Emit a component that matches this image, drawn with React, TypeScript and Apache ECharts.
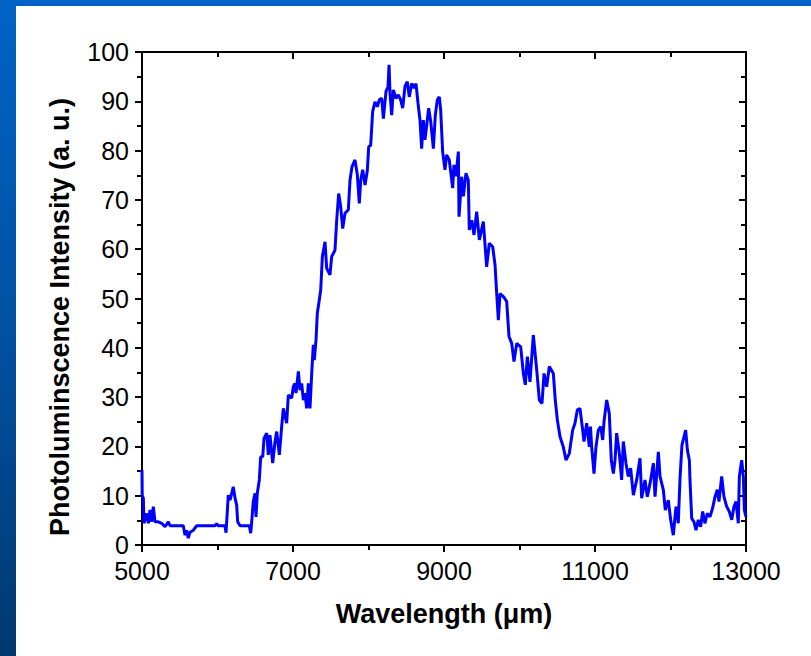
import React, { useEffect, useRef } from "react";
import * as echarts from "echarts";

// Wavelength (µm) and photoluminescence intensity (a.u.)
const wavelengths = [
  5000, 5003, 5018, 5026, 5062, 5084, 5106, 5128, 5150, 5172, 5216, 5261, 5305, 5349, 5371,
  5547, 5570, 5592, 5613, 5636, 5680, 5724, 5967, 5989, 6011, 6099, 6113, 6143, 6166, 6209,
  6232, 6254, 6267, 6298, 6421, 6440, 6453, 6474, 6497, 6510, 6527, 6554, 6572, 6599, 6616,
  6652, 6673, 6695, 6731, 6762, 6784, 6819, 6850, 6872, 6916, 6938, 6960, 6983, 7004, 7026,
  7040, 7071, 7093, 7115, 7137, 7159, 7181, 7203, 7225, 7248, 7269, 7282, 7305, 7322, 7348,
  7367, 7389, 7424, 7446, 7490, 7512, 7556, 7579, 7605, 7632, 7658, 7689, 7733, 7755, 7781,
  7821, 7852, 7878, 7897, 7923, 7954, 7984, 8003, 8029, 8055, 8086, 8117, 8143, 8175, 8197,
  8232, 8258, 8272, 8285, 8307, 8329, 8364, 8395, 8426, 8453, 8483, 8514, 8540, 8572, 8603,
  8629, 8656, 8682, 8704, 8726, 8748, 8771, 8797, 8824, 8859, 8885, 8912, 8938, 8956, 8982,
  9013, 9035, 9070, 9115, 9132, 9159, 9190, 9199, 9234, 9256, 9291, 9322, 9335, 9367, 9397,
  9433, 9468, 9521, 9565, 9600, 9645, 9676, 9698, 9720, 9742, 9786, 9830, 9861, 9897, 9927,
  9963, 10016, 10051, 10077, 10104, 10139, 10183, 10228, 10263, 10298, 10325, 10360, 10395, 10448, 10474,
  10501, 10536, 10580, 10616, 10660, 10704, 10735, 10766, 10801, 10837, 10854, 10890, 10925, 10940, 10956,
  10987, 11013, 11044, 11076, 11102, 11119, 11155, 11189, 11216, 11243, 11265, 11287, 11322, 11353, 11375,
  11410, 11441, 11472, 11508, 11552, 11596, 11618, 11662, 11693, 11729, 11773, 11795, 11839, 11861, 11905,
  11931, 11971, 12002, 12037, 12073, 12103, 12126, 12152, 12201, 12223, 12250, 12258, 12281, 12311, 12338,
  12368, 12399, 12426, 12456, 12487, 12523, 12558, 12590, 12620, 12642, 12678, 12708, 12744, 12779, 12811,
  12841, 12868, 12898, 12912, 12943, 12965, 12978, 13000,
];

const intensities = [
  15.2, 10.1, 9.5, 4.4, 6.4, 4.4, 7.1, 4.7, 7.8, 4.7, 4.7, 4.4, 3.7, 4.7, 3.9,
  3.9, 2.0, 3.0, 1.4, 2.6, 3.0, 3.9, 3.9, 4.3, 3.9, 3.9, 2.5, 10.1, 9.1, 11.8,
  9.5, 8.1, 4.7, 3.9, 3.9, 2.4, 4.7, 8.8, 10.5, 5.7, 10.5, 13.2, 17.9, 17.9, 21.6,
  22.7, 18.3, 22.3, 16.6, 21.0, 23.0, 18.3, 24.0, 27.7, 24.7, 30.4, 30.1, 29.8, 32.1, 32.8,
  30.8, 35.2, 31.4, 32.8, 29.4, 30.8, 27.7, 32.8, 27.7, 34.8, 40.6, 37.5, 41.6, 47.0, 49.7,
  51.7, 58.5, 61.5, 56.1, 54.8, 58.5, 59.8, 65.9, 71.3, 68.6, 64.2, 67.3, 68.0, 74.0, 76.7,
  78.1, 75.1, 69.3, 74.0, 76.1, 73.0, 75.9, 80.8, 81.1, 87.9, 89.9, 88.9, 90.3, 90.6, 86.5,
  92.0, 92.9, 97.4, 91.6, 87.2, 92.3, 90.6, 91.3, 90.3, 88.6, 93.0, 94.0, 90.9, 93.6, 92.7,
  93.6, 89.6, 86.2, 80.4, 86.2, 82.2, 85.2, 88.6, 85.9, 80.4, 87.2, 90.3, 90.9, 88.2, 79.8,
  76.1, 79.1, 78.1, 72.4, 77.1, 74.8, 79.8, 66.6, 74.7, 70.7, 75.4, 74.0, 63.9, 65.9, 62.9,
  67.6, 61.9, 65.6, 56.4, 61.2, 60.5, 56.8, 51.0, 45.6, 51.0, 50.4, 49.4, 42.3, 40.9, 37.2,
  40.9, 40.2, 34.8, 32.5, 38.2, 33.1, 42.6, 35.5, 29.4, 28.7, 34.8, 32.1, 36.2, 34.8, 29.4,
  25.4, 22.0, 19.9, 17.2, 18.6, 23.3, 24.7, 27.4, 27.7, 23.3, 21.0, 24.7, 19.9, 24.0, 19.9,
  14.5, 19.9, 23.3, 24.0, 21.3, 25.0, 29.4, 26.7, 17.2, 14.5, 17.2, 22.7, 18.6, 13.2, 21.0,
  16.6, 13.9, 15.6, 10.1, 13.2, 17.6, 9.5, 13.2, 9.8, 12.5, 16.6, 9.8, 18.9, 13.9, 11.2,
  7.1, 9.1, 5.1, 2.0, 7.8, 4.4, 13.5, 20.3, 23.3, 19.3, 17.2, 13.2, 5.4, 4.7, 3.0,
  5.1, 3.7, 6.8, 4.4, 6.4, 5.7, 7.5, 9.8, 11.2, 8.8, 13.9, 9.8, 7.8, 6.8, 5.1,
  7.8, 8.8, 4.4, 13.9, 17.2, 13.9, 7.1, 5.7,
];

// Axis ranges / tick spacing
const xRange = { min: 5000, max: 13000, interval: 2000 };
const yRange = { min: 0, max: 100, interval: 10 };

const xTitle = "Wavelength (\u03bcm)";
const yTitle = "Photoluminscence Intensity (a. u.)";

const FONT = '"Liberation Sans", Arial, Helvetica, sans-serif';

export default function App() {
  const ref = useRef<HTMLDivElement>(null);

  useEffect(() => {
    if (!ref.current) return;
    const chart = echarts.init(ref.current, undefined, { renderer: "svg" });

    const axisLine = { show: true, onZero: false, lineStyle: { color: "#000", width: 2 } };
    const tickStyle = { color: "#000", width: 2 };
    const labelStyle = {
      show: true,
      color: "#000",
      fontSize: 25,
      fontFamily: FONT,
      formatter: (v: number) => String(v),
    };

    const makeX = (position: "bottom" | "top", labels: boolean) => ({
      type: "value",
      position,
      ...xRange,
      axisLine,
      axisTick: { show: true, inside: position === "top", length: 7, lineStyle: tickStyle },
      minorTick: { show: true, splitNumber: 2, length: 5, lineStyle: tickStyle },
      splitLine: { show: false },
      minorSplitLine: { show: false },
      axisLabel: labels ? { ...labelStyle, margin: 13 } : { show: false },
      ...(labels
        ? {
            name: xTitle,
            nameLocation: "middle",
            nameGap: 55,
            nameTextStyle: { color: "#000", fontSize: 27, fontWeight: "bold", fontFamily: FONT },
          }
        : {}),
    });

    const makeY = (position: "left" | "right", labels: boolean) => ({
      type: "value",
      position,
      ...yRange,
      axisLine,
      axisTick: { show: true, inside: position === "right", length: 7, lineStyle: tickStyle },
      minorTick: { show: true, splitNumber: 2, length: 5, lineStyle: tickStyle },
      splitLine: { show: false },
      minorSplitLine: { show: false },
      axisLabel: labels ? { ...labelStyle, margin: 13 } : { show: false },
    });

    const data = wavelengths.map((w, i) => [w, intensities[i]]);

    chart.setOption({
      animation: false,
      backgroundColor: "transparent",
      grid: { left: 142, right: 65, top: 52, bottom: 111, containLabel: false },
      xAxis: [makeX("bottom", true), makeX("top", false)],
      yAxis: [makeY("left", true), makeY("right", false)],
      graphic: {
        elements: [
          {
            type: "text",
            x: 60,
            y: 317,
            rotation: Math.PI / 2,
            silent: true,
            style: {
              text: yTitle,
              fill: "#000",
              font: `bold 27px ${FONT}`,
              align: "center",
              verticalAlign: "middle",
            },
          },
        ],
      },
      series: [
        {
          type: "line",
          xAxisIndex: 0,
          yAxisIndex: 0,
          data,
          showSymbol: false,
          symbol: "none",
          clip: true,
          lineStyle: { color: "#0000ff", width: 3 },
          z: 3,
        },
      ],
    });

    return () => chart.dispose();
  }, []);

  return (
    <div
      style={{
        position: "absolute",
        left: 0,
        top: 0,
        width: 811,
        height: 656,
        background: "linear-gradient(180deg, #0063c6 0%, #004f9e 55%, #00386f 100%)",
        overflow: "hidden",
      }}
    >
      <div
        style={{ position: "absolute", left: 16, top: 6, width: 795, height: 650, background: "#ffffff" }}
      />
      <div ref={ref} style={{ position: "absolute", left: 0, top: 0, width: 811, height: 656 }} />
    </div>
  );
}
